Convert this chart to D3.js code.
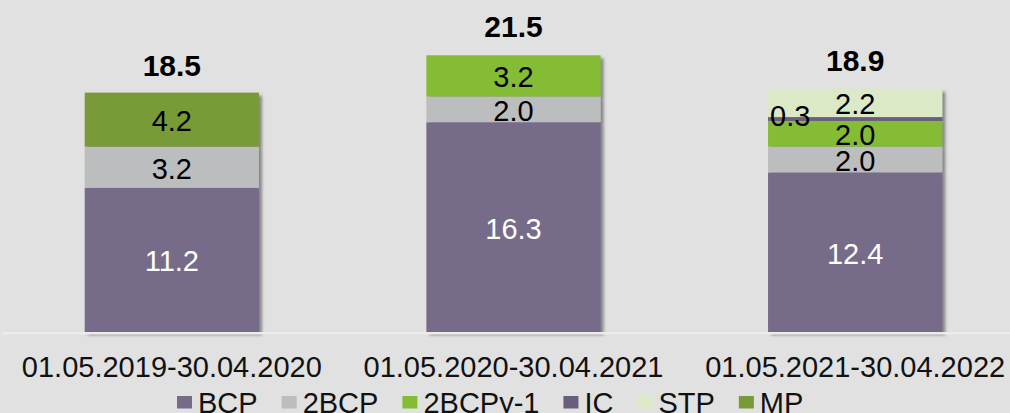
<!DOCTYPE html>
<html>
<head>
<meta charset="utf-8">
<script src="https://cdn.jsdelivr.net/npm/d3@7"></script>
<style>
  html, body { margin: 0; padding: 0; background: #e1e1e1; }
  svg { display: block; font-family: "Liberation Sans", Arial, sans-serif; }
</style>
</head>
<body>
<div id="chart"></div>
<script>
// chart data
var categories = ["01.05.2019-30.04.2020", "01.05.2020-30.04.2021", "01.05.2021-30.04.2022"];
var seriesNames = ["BCP", "2BCP", "2BCPy-1", "IC", "STP", "MP"];
var bcp = [11.2, 16.3, 12.4];
var bcp2 = [3.2, 2.0, 2.0];
var bcp2y1 = [0, 3.2, 2.0];
var ic = [0, 0, 0.3];
var stp = [0, 0, 2.2];
var mp = [4.2, 0, 0];
var totals = [18.5, 21.5, 18.9];

var colors = ["#766c89", "#bcbdbf", "#84bc34", "#695f7d", "#dbe9c6", "#789b39"];
var labelColors = ["#ffffff", "#000000", "#000000", "#000000", "#000000", "#000000"];

var svgWidth = 1010;
var svgHeight = 413;

var svg = d3.select("#chart")
  .append("svg")
  .attr("width", svgWidth)
  .attr("height", svgHeight);

svg.append("rect")
  .attr("width", svgWidth)
  .attr("height", svgHeight)
  .attr("fill", "#e1e1e1");

// shadow for the bars
var defs = svg.append("defs");
defs.append("filter")
  .attr("id", "shadow")
  .attr("x", "-10%").attr("y", "-10%")
  .attr("width", "130%").attr("height", "130%")
  .append("feDropShadow")
  .attr("dx", 3)
  .attr("dy", 3)
  .attr("stdDeviation", 1.5)
  .attr("flood-color", "#555")
  .attr("flood-opacity", 0.65);

// build table
var table = categories.map(function(c, i) {
  return {
    cat: c,
    "BCP": bcp[i],
    "2BCP": bcp2[i],
    "2BCPy-1": bcp2y1[i],
    "IC": ic[i],
    "STP": stp[i],
    "MP": mp[i],
    total: totals[i]
  };
});

var stacked = d3.stack().keys(seriesNames)(table);

var xScale = d3.scaleBand()
  .domain(categories)
  .range([1, 1026])
  .paddingInner(0.49)
  .paddingOuter(0.245);

var yScale = d3.scaleLinear()
  .domain([0, 25])
  .range([332, 332 - 25 * 12.87]);

// bars
var barLayer = svg.append("g").attr("filter", "url(#shadow)");

barLayer.selectAll("g.series")
  .data(stacked)
  .enter()
  .append("g")
  .attr("class", "series")
  .attr("fill", (d, i) => colors[i])
  .selectAll("rect")
  .data(d => d.filter(p => p[1] - p[0] > 0))
  .enter()
  .append("rect")
  .attr("x", d => xScale(d.data.cat))
  .attr("y", d => yScale(d[1]))
  .attr("width", xScale.bandwidth())
  .attr("height", d => yScale(d[0]) - yScale(d[1]));

// baseline
svg.append("line")
  .attr("x1", 2)
  .attr("x2", svgWidth)
  .attr("y1", 333.3)
  .attr("y2", 333.3)
  .attr("stroke", "#ececec")
  .attr("stroke-width", 2.5);

// segment labels
stacked.forEach(function(s, si) {
  svg.append("g")
    .selectAll("text")
    .data(s.filter(p => p[1] - p[0] > 0))
    .enter()
    .append("text")
    .attr("x", function(d) {
      if (s.key === "IC") return xScale(d.data.cat) + 2;
      return xScale(d.data.cat) + xScale.bandwidth() / 2;
    })
    .attr("y", d => (yScale(d[0]) + yScale(d[1])) / 2)
    .attr("dy", s.key === "IC" ? 7 : 11.5)
    .attr("text-anchor", s.key === "IC" ? "start" : "middle")
    .attr("font-size", "29px")
    .attr("fill", labelColors[si])
    .text(d => (d[1] - d[0]).toFixed(1));
});

// totals
svg.append("g")
  .selectAll("text")
  .data(table)
  .enter()
  .append("text")
  .attr("x", d => xScale(d.cat) + xScale.bandwidth() / 2)
  .attr("y", d => yScale(d.total) - 18)
  .attr("text-anchor", "middle")
  .attr("font-size", "30px")
  .attr("font-weight", "bold")
  .attr("fill", "#000")
  .text(d => d.total.toFixed(1));

// category labels
var xAxis = svg.append("g")
  .attr("transform", "translate(0, 377)")
  .call(d3.axisBottom(xScale).tickSize(0).tickPadding(0));
xAxis.select(".domain").remove();
xAxis.selectAll("text")
  .attr("y", 0)
  .attr("dy", 0)
  .attr("font-size", "29px")
  .attr("font-family", "Liberation Sans, Arial, sans-serif")
  .attr("fill", "#111");

// legend
var legend = svg.append("g");
var lx = 177;
seriesNames.forEach(function(name, i) {
  legend.append("rect")
    .attr("x", lx)
    .attr("y", 396)
    .attr("width", 15)
    .attr("height", 12.5)
    .attr("fill", colors[i]);
  var t = legend.append("text")
    .attr("x", lx + 21)
    .attr("y", 413)
    .attr("font-size", "29px")
    .attr("fill", "#111")
    .text(name);
  lx = lx + 21 + t.node().getComputedTextLength() + 24;
});
</script>
</body>
</html>
